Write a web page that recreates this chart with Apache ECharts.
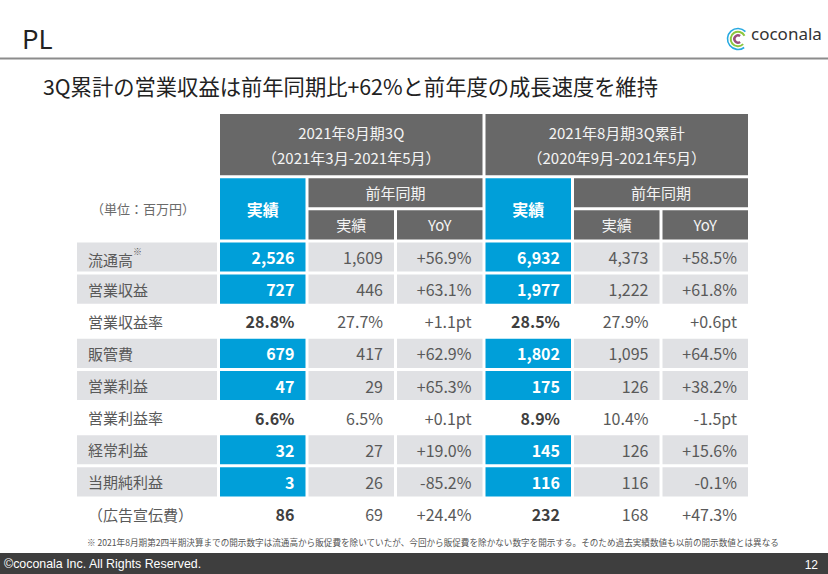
<!DOCTYPE html>
<html>
<head>
<meta charset="utf-8">
<script src="https://cdn.jsdelivr.net/npm/echarts@6/dist/echarts.min.js"></script>
<style>
html,body{margin:0;padding:0;background:#fff;}
#main{width:828px;height:574px;}
</style>
</head>
<body>
<div id="main"></div>
<script>
// ---------- data ----------
const pageTitle = 'PL';
const headline = '3Q累計の営業収益は前年同期比+62%と前年度の成長速度を維持';
const brandName = 'coconala';
const unitLabel = '（単位：百万円）';
const periodTitles = ['2021年8月期3Q', '2021年8月期3Q累計'];
const periodRanges = ['（2021年3月-2021年5月）', '（2020年9月-2021年5月）'];
const actualHead = '実績';
const priorHead = '前年同期';
const priorSubHeads = ['実績', 'YoY'];
const rowLabels = ['流通高', '営業収益', '営業収益率', '販管費', '営業利益', '営業利益率', '経常利益', '当期純利益', '（広告宣伝費）'];
const rowNotes = ['※', '', '', '', '', '', '', '', ''];
const rowKinds = ['amount', 'amount', 'ratio', 'amount', 'amount', 'ratio', 'amount', 'amount', 'memo'];
const q3Actual = ['2,526', '727', '28.8%', '679', '47', '6.6%', '32', '3', '86'];
const q3Prior = ['1,609', '446', '27.7%', '417', '29', '6.5%', '27', '26', '69'];
const q3YoY = ['+56.9%', '+63.1%', '+1.1pt', '+62.9%', '+65.3%', '+0.1pt', '+19.0%', '-85.2%', '+24.4%'];
const cumActual = ['6,932', '1,977', '28.5%', '1,802', '175', '8.9%', '145', '116', '232'];
const cumPrior = ['4,373', '1,222', '27.9%', '1,095', '126', '10.4%', '126', '116', '168'];
const cumYoY = ['+58.5%', '+61.8%', '+0.6pt', '+64.5%', '+38.2%', '-1.5pt', '+15.6%', '-0.1%', '+47.3%'];
const footnote = '※ 2021年8月期第2四半期決算までの開示数字は流通高から販促費を除いていたが、今回から販促費を除かない数字を開示する。そのため過去実績数値も以前の開示数値とは異なる';
const copyright = '©coconala Inc. All Rights Reserved.';
const pageNumber = '12';

// ---------- styles ----------
const FONT = '"Noto Sans CJK JP", "Noto Sans", sans-serif';
const C_HEAD = '#686868';
const C_BLUE = '#009fd9';
const C_GRAY = '#e0e1e4';
const C_TEXT = '#595959';
const C_DARK = '#3f3f3f';
const GAP = 3;
const HEADER_ROWS = 4;

// ---------- build cells ----------
const columns = [q3Actual, q3Prior, q3YoY, cumActual, cumPrior, cumYoY];
const dataCells = [];   // main grid
const labelCells = [];  // label column grid
function addCell(list, c) { list.push(c); }

periodTitles.forEach((t, p) => {
  const c0 = p * 3;
  addCell(dataCells, {col: c0, row: 0, cs: 3, rs: 2, text: t + '\n' + periodRanges[p], kind: 'head2'});
  addCell(dataCells, {col: c0, row: 2, cs: 1, rs: 2, text: actualHead, kind: 'headBlue'});
  addCell(dataCells, {col: c0 + 1, row: 2, cs: 2, rs: 1, text: priorHead, kind: 'head'});
  addCell(dataCells, {col: c0 + 1, row: 3, cs: 1, rs: 1, text: priorSubHeads[0], kind: 'head'});
  addCell(dataCells, {col: c0 + 2, row: 3, cs: 1, rs: 1, text: priorSubHeads[1], kind: 'head'});
});
rowLabels.forEach((lab, r) => {
  columns.forEach((vals, c) => {
    const actual = (c % 3 === 0);
    addCell(dataCells, {col: c, row: r + HEADER_ROWS, cs: 1, rs: 1, text: vals[r],
      kind: (rowKinds[r] === 'amount' ? (actual ? 'blueVal' : 'grayVal') : (actual ? 'boldVal' : 'plainVal'))});
  });
  addCell(labelCells, {col: 0, row: r + HEADER_ROWS, cs: 1, rs: 1, text: lab, note: rowNotes[r],
    kind: rowKinds[r] === 'amount' ? 'labelGray' : 'labelPlain'});
});
addCell(labelCells, {col: 0, row: 2, cs: 1, rs: 2, text: unitLabel, kind: 'unit'});

const rowKeys = [];
for (let i = 0; i < HEADER_ROWS + rowLabels.length; i++) rowKeys.push('r' + i);

function makeRender(cells) {
  return function (params, api) {
    const c = cells[api.value(2)];
    const p = api.coord([api.value(0), api.value(1)]);
    const s = api.size([1, 1]);
    const x = p[0] - s[0] / 2, y = p[1] - s[1] / 2;
    const w = c.cs * s[0] - GAP, h = c.rs * s[1] - GAP;
    let fill = null, tFill = C_TEXT, fs = 15, fw = 'normal', align = 'center', tx = x + w / 2, lh = null;
    switch (c.kind) {
      case 'head2': fill = C_HEAD; tFill = '#f4f4f4'; fs = 15; lh = 25; break;
      case 'head': fill = C_HEAD; tFill = '#f4f4f4'; fs = 15; break;
      case 'headBlue': fill = C_BLUE; tFill = '#ffffff'; fs = 16; fw = 'bold'; break;
      case 'blueVal': fill = C_BLUE; tFill = '#ffffff'; fs = 16; fw = 'bold'; align = 'right'; tx = x + w - 11; break;
      case 'grayVal': fill = C_GRAY; tFill = C_TEXT; fs = 16; align = 'right'; tx = x + w - 11; break;
      case 'boldVal': tFill = C_DARK; fs = 16; fw = 'bold'; align = 'right'; tx = x + w - 11; break;
      case 'plainVal': tFill = C_TEXT; fs = 16; align = 'right'; tx = x + w - 11; break;
      case 'labelGray': fill = C_GRAY; tFill = C_TEXT; fs = 15; align = 'left'; tx = x + 11; break;
      case 'labelPlain': tFill = C_TEXT; fs = 15; align = 'left'; tx = x + 11; break;
      case 'unit': tFill = '#6a6a6a'; fs = 13; align = 'center'; tx = x + w / 2 - 4; break;
    }
    const children = [];
    if (fill) children.push({type: 'rect', shape: {x: x, y: y, width: w, height: h}, style: {fill: fill}, silent: true});
    const tStyle = {x: tx, y: y + h / 2, fill: tFill, fontSize: fs, fontWeight: fw, fontFamily: FONT,
      align: align, verticalAlign: 'middle'};
    if (c.note) {
      tStyle.text = '{a|' + c.text + '}{s|' + c.note + '}';
      tStyle.rich = {
        a: {fontSize: fs, fontFamily: FONT, fill: tFill, color: tFill, lineHeight: 20, verticalAlign: 'bottom'},
        s: {fontSize: 9, fontFamily: FONT, fill: tFill, color: tFill, lineHeight: 20, verticalAlign: 'top'}
      };
    } else {
      tStyle.text = c.text;
      if (lh) tStyle.lineHeight = lh;
    }
    children.push({type: 'text', style: tStyle, silent: true});
    return {type: 'group', children: children};
  };
}

const chart = echarts.init(document.getElementById('main'), null, {renderer: 'svg', width: 828, height: 574});
const gridTop = 114, gridHeight = 417.6;
chart.setOption({
  animation: false,
  backgroundColor: '#ffffff',
  grid: [
    {left: 77, width: 143, top: gridTop, height: gridHeight},
    {left: 220, right: 77, top: gridTop, height: gridHeight}
  ],
  xAxis: [
    {type: 'category', gridIndex: 0, data: ['label'], show: false},
    {type: 'category', gridIndex: 1, data: ['c0', 'c1', 'c2', 'c3', 'c4', 'c5'], show: false}
  ],
  yAxis: [
    {type: 'category', gridIndex: 0, data: rowKeys, inverse: true, show: false},
    {type: 'category', gridIndex: 1, data: rowKeys, inverse: true, show: false}
  ],
  series: [
    {type: 'custom', xAxisIndex: 0, yAxisIndex: 0, renderItem: makeRender(labelCells),
      data: labelCells.map((c, i) => [c.col, c.row, i]), clip: false},
    {type: 'custom', xAxisIndex: 1, yAxisIndex: 1, renderItem: makeRender(dataCells),
      data: dataCells.map((c, i) => [c.col, c.row, i]), clip: false}
  ],
  graphic: [
    {type: 'text', left: 22, top: 24, style: {text: pageTitle, fontSize: 26, fontFamily: FONT, fill: '#222'}},
    {type: 'rect', left: 0, top: 57.5, shape: {width: 828, height: 2}, style: {fill: '#8c8c8c'}},
    {type: 'text', left: 43, top: 75, style: {text: headline, fontSize: 21.3, fontFamily: FONT, fill: '#222'}},
    // logo
    {type: 'group', left: 725, top: 26, children: [
      {type: 'arc', shape: {cx: 11.5, cy: 11.5, r: 10.5, startAngle: Math.PI * 0.3, endAngle: Math.PI * 1.75}, style: {stroke: '#27a9e1', lineWidth: 1.6, fill: null}},
      {type: 'arc', shape: {cx: 11.5, cy: 11.5, r: 7.3, startAngle: Math.PI * 0.25, endAngle: Math.PI * 1.85}, style: {stroke: '#8cc63e', lineWidth: 2, fill: null}},
      {type: 'arc', shape: {cx: 11.5, cy: 11.5, r: 3.6, startAngle: Math.PI * 0.3, endAngle: Math.PI * 1.7}, style: {stroke: '#9a4e7c', lineWidth: 2.4, fill: null}}
    ]},
    {type: 'text', left: 751, top: 25, style: {text: brandName, fontSize: 17, fontFamily: '"Noto Sans", sans-serif', fill: '#333'}},
    {type: 'text', left: 87, top: 538, style: {text: footnote, fontSize: 8.6, fontFamily: FONT, fill: '#555'}},
    {type: 'rect', left: 0, top: 553, shape: {width: 828, height: 21}, style: {fill: '#3e3e3e'}},
    {type: 'text', left: 4, top: 558, style: {text: copyright, fontSize: 12.4, fontFamily: '"Liberation Sans", Arial, sans-serif', fill: '#ffffff'}},
    {type: 'text', right: 10, top: 559, style: {text: pageNumber, fontSize: 12, fontFamily: '"Liberation Sans", Arial, sans-serif', fill: '#ffffff'}}
  ]
});
</script>
</body>
</html>
